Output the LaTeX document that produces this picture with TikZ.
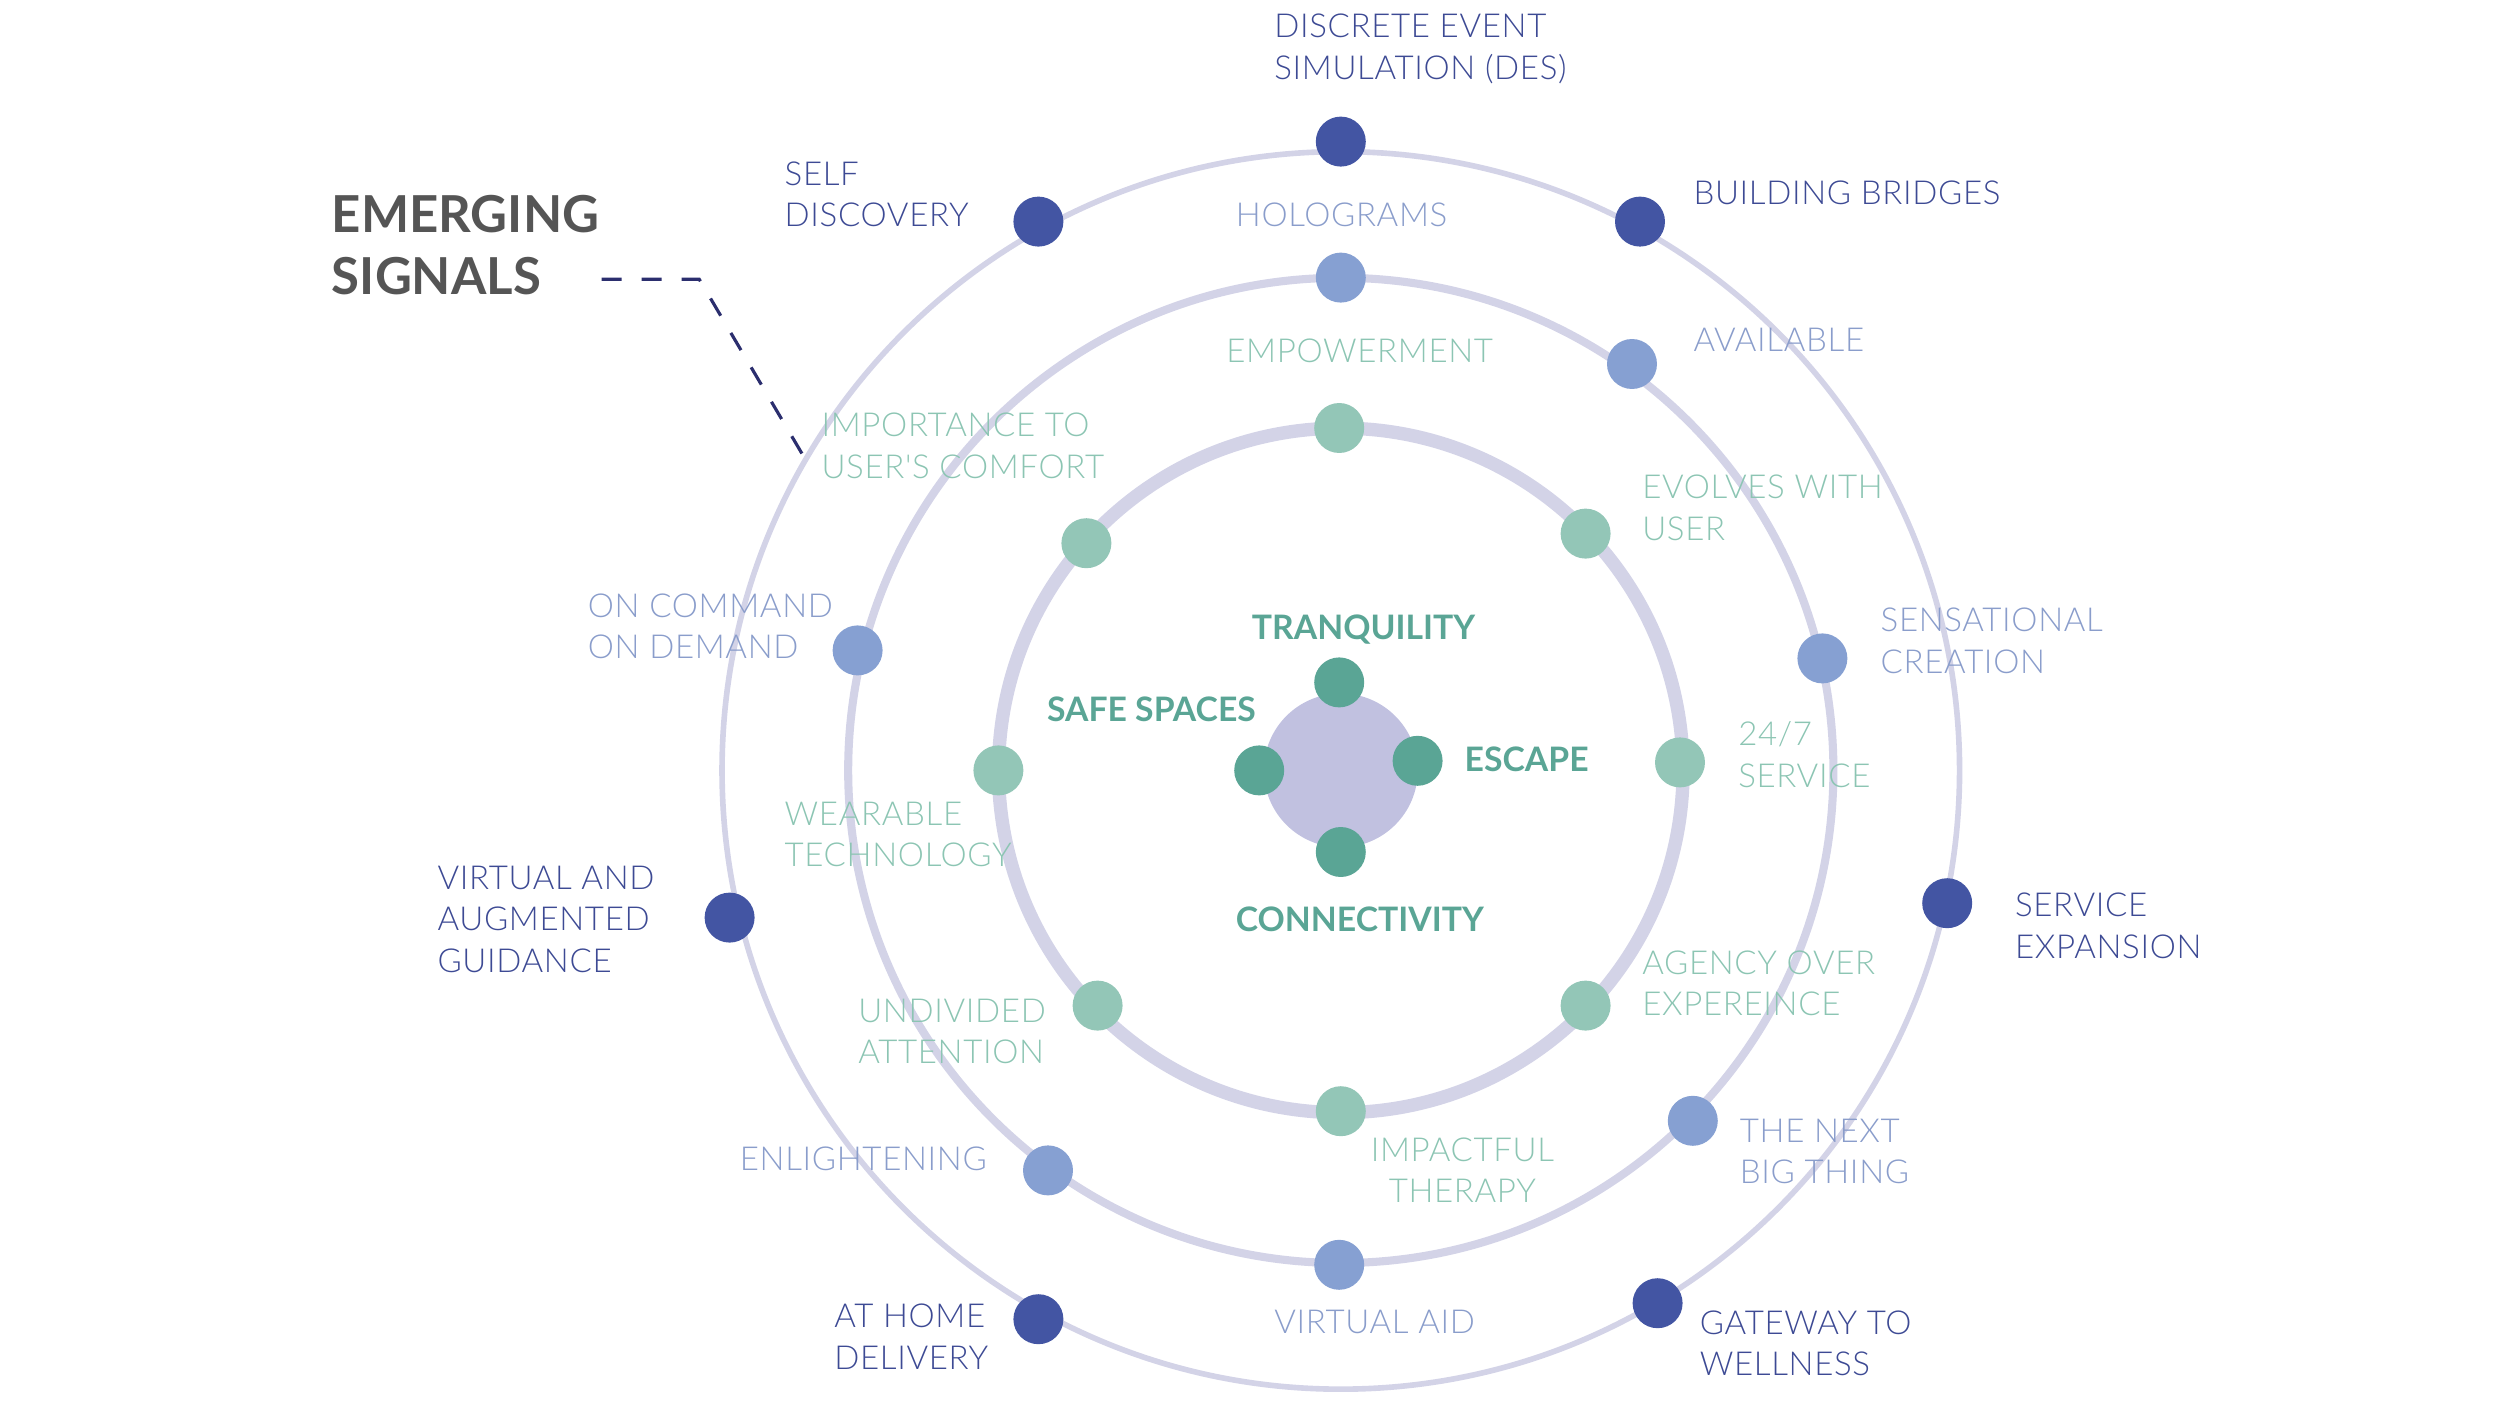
\documentclass[tikz,border=0pt]{standalone}
\usepackage{fontspec}
\setmainfont{Lato}
\newfontfamily\lightfont{Lato Light}[LetterSpace=2]
\definecolor{ringc}{HTML}{D3D3E7}
\definecolor{corec}{HTML}{C1C1E0}
\definecolor{dkdot}{HTML}{4355A3}
\definecolor{dktxt}{HTML}{3D4A94}
\definecolor{mddot}{HTML}{86A0D2}
\definecolor{mdtxt}{HTML}{8A9DCB}
\definecolor{indot}{HTML}{93C6B7}
\definecolor{intxt}{HTML}{8CC5B3}
\definecolor{cdot}{HTML}{5AA595}
\definecolor{emc}{HTML}{555555}
\definecolor{dashc}{HTML}{2B2E6E}
\begin{document}
\begin{tikzpicture}[x=0.016cm,y=-0.016cm,
  ring/.style={draw=ringc},
  dotbase/.style={circle,inner sep=0pt,minimum size=0.5cm},
  outerdot/.style={dotbase,fill=dkdot},
  middot/.style={dotbase,fill=mddot},
  innerdot/.style={dotbase,fill=indot},
  coredot/.style={dotbase,fill=cdot},
  lblbase/.style={inner sep=0pt,align=left,anchor=west,font=\lightfont\fontsize{9.4}{11.8}\selectfont},
  outerlbl/.style={lblbase,text=dktxt},
  midlbl/.style={lblbase,text=mdtxt},
  innerlbl/.style={lblbase,text=intxt},
  corelbl/.style={lblbase,text=cdot,font=\fontsize{9.6}{11.8}\selectfont\bfseries},
  dashline/.style={draw=dashc,line width=0.9pt,dash pattern=on 0.2cm off 0.2cm}
]
\useasboundingbox (0,0) rectangle (1562.5,878.75);
\begin{scope}[shift={(-2,-1.5)}]
\coordinate (C) at (840,483);
% rings
\draw[ring,line width=1.6pt] (C) circle[radius=6.19cm];
\draw[ring,line width=2.3pt] (C) circle[radius=4.928cm];
\draw[ring,line width=3.8pt] (C) circle[radius=3.424cm];
\fill[corec] (C) circle[radius=0.77cm];

% outer ring dots
\node[outerdot] (des) at (840,90) {};
\node[outerdot] (bb) at (1027,140) {};
\node[outerdot] (sd) at (651,140) {};
\node[outerdot] (se) at (1219,566) {};
\node[outerdot] (vag) at (458,575) {};
\node[outerdot] (gw) at (1038,816) {};
\node[outerdot] (ahd) at (651,826) {};

% middle ring dots
\node[middot] (holo) at (840,175) {};
\node[middot] (avail) at (1022,229) {};
\node[middot] (sens) at (1141,413) {};
\node[middot] (nbt) at (1060,702) {};
\node[middot] (vaid) at (839,792) {};
\node[middot] (enl) at (657,733) {};
\node[middot] (ocd) at (538,408) {};

% inner ring dots
\node[innerdot] (emp) at (839,269) {};
\node[innerdot] (evo) at (993,335) {};
\node[innerdot] (serv) at (1052,478) {};
\node[innerdot] (agy) at (993,630) {};
\node[innerdot] (imp) at (840,696) {};
\node[innerdot] (und) at (688,630) {};
\node[innerdot] (wear) at (626,483) {};
\node[innerdot] (itc) at (681,341) {};

% core dots
\node[coredot] (tq) at (839,428) {};
\node[coredot] (esc) at (888,477) {};
\node[coredot] (con) at (840,534) {};
\node[coredot] (ss) at (789,483) {};

% outer labels
\node[outerlbl] (ldes) at (798,32) {DISCRETE EVENT\\SIMULATION (DES)};
\node[outerlbl] (lsd) at (492,123) {SELF\\DISCOVERY};
\node[outerlbl] (lbb) at (1060,122) {BUILDING BRIDGES};
\node[outerlbl] (lse) at (1261,580) {SERVICE\\EXPANSION};
\node[outerlbl] (lvag) at (275,576) {VIRTUAL AND\\AUGMENTED\\GUIDANCE};
\node[outerlbl] (lgw) at (1064,841) {GATEWAY TO\\WELLNESS};
\node[outerlbl] (lahd) at (523,837) {AT HOME\\DELIVERY};

% middle labels
\node[midlbl] (lholo) at (774,136) {HOLOGRAMS};
\node[midlbl] (lavail) at (1060,214) {AVAILABLE};
\node[midlbl] (lsens) at (1177,402) {SENSATIONAL\\CREATION};
\node[midlbl] (lnbt) at (1089,721) {THE NEXT\\BIG THING};
\node[midlbl] (lvaid) at (798,828) {VIRTUAL AID};
\node[midlbl] (lenl) at (464,726) {ENLIGHTENING};
\node[midlbl] (locd) at (369,393) {ON COMMAND\\ON DEMAND};

% inner labels
\node[innerlbl] (lemp) at (768,221) {EMPOWERMENT};
\node[innerlbl] (litc) at (515,280) {IMPORTANCE TO\\USER'S COMFORT};
\node[innerlbl] (levo) at (1028,319) {EVOLVES WITH\\USER};
\node[innerlbl] (lserv) at (1088,473) {24/7\\SERVICE};
\node[innerlbl] (lwear) at (492,523) {WEARABLE\\TECHNOLOGY};
\node[innerlbl] (lagy) at (1028,616) {AGENCY OVER\\EXPEREINCE};
\node[innerlbl] (lund) at (538,646) {UNDIVIDED\\ATTENTION};
\node[innerlbl,align=center,anchor=center] (limp) at (916,733) {IMPACTFUL\\THERAPY};

% core labels
\node[corelbl] (ltq) at (784,395) {TRANQUILITY};
\node[corelbl] (lss) at (656,445) {SAFE SPACES};
\node[corelbl] (lesc) at (917,476) {ESCAPE};
\node[corelbl] (lcon) at (774,576) {CONNECTIVITY};

% title
\node[inner sep=0pt,align=left,anchor=north west,text=emc,
  font=\fontsize{14.5}{17.6}\selectfont\bfseries] (ems) at (209,123) {EMERGING\\SIGNALS};
\coordinate (dstart) at (378,176);
\coordinate (dbend) at (439,176);
\coordinate (dend) at (505,288);
\draw[dashline] (dstart) -- (dbend) -- (dend);
\end{scope}
\end{tikzpicture}
\end{document}
